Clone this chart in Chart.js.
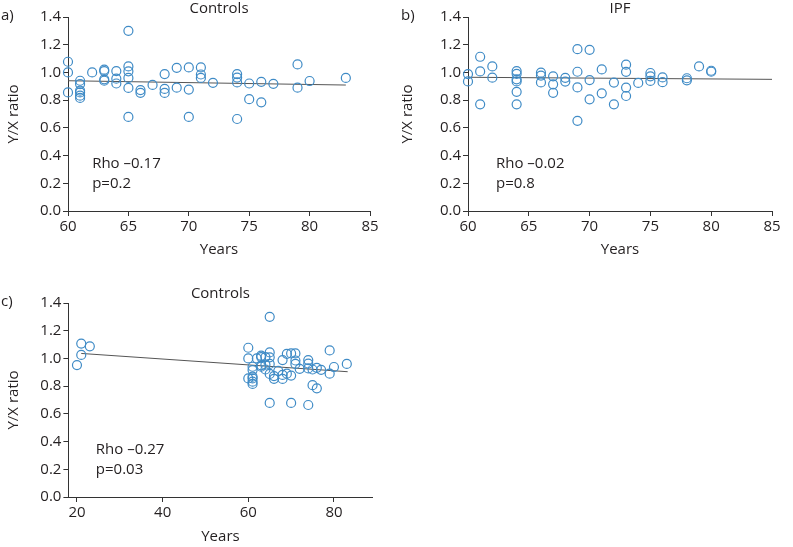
<!DOCTYPE html>
<html>
<head>
<meta charset="utf-8">
<script src="https://cdn.jsdelivr.net/npm/chart.js@4"></script>
<style>
  html, body { margin: 0; padding: 0; background: #fff; }
  body { width: 793px; height: 547px; position: relative; overflow: hidden; }
  .panel { position: absolute; }
</style>
</head>
<body>
<div class="panel" style="left:0;top:0"><canvas id="chartA" width="390" height="265"></canvas></div>
<div class="panel" style="left:390px;top:0"><canvas id="chartB" width="403" height="265"></canvas></div>
<div class="panel" style="left:0;top:265px"><canvas id="chartC" width="390" height="282"></canvas></div>
<script>
// a) Controls aged 60+
const ageA = [60, 60, 60, 61, 61, 61, 61, 61, 61, 62, 63, 63, 63, 63, 64, 64, 64,
  65, 65, 65, 65, 65, 65, 66, 66, 67, 68, 68, 68, 69, 69, 70, 70, 70, 71, 71, 71,
  72, 74, 74, 74, 74, 75, 75, 76, 76, 77, 79, 79, 80, 83];
const ratioA = [1.077, 1.0, 0.856, 0.94, 0.916, 0.868, 0.856, 0.832, 0.816, 1.0, 1.02, 1.01, 0.95, 0.94, 1.01, 0.955, 0.92,
  1.30, 1.043, 1.008, 0.96, 0.888, 0.679, 0.873, 0.853, 0.91, 0.988, 0.881, 0.852, 1.033, 0.89, 1.036, 0.876, 0.679, 1.036, 0.985, 0.96,
  0.925, 0.988, 0.963, 0.928, 0.664, 0.92, 0.807, 0.932, 0.784, 0.918, 1.058, 0.89, 0.938, 0.96];
const fitAgeA = [60, 83];
const fitRatioA = [0.94, 0.909];

// b) IPF
const ageB = [60, 60, 61, 61, 61, 62, 62, 64, 64, 64, 64, 64, 64, 66, 66, 66, 67, 67, 67, 68, 68,
  69, 69, 69, 69, 70, 70, 70, 71, 71, 72, 72, 73, 73, 73, 73, 74, 75, 75, 75, 76, 76, 78, 78, 79, 80, 80];
const ratioB = [0.988, 0.935, 1.113, 1.007, 0.77, 1.043, 0.962, 1.01, 0.99, 0.95, 0.935, 0.86, 0.77, 0.998, 0.977, 0.928, 0.972, 0.914, 0.853, 0.961, 0.934,
  1.168, 1.005, 0.892, 0.651, 1.163, 0.945, 0.806, 1.022, 0.849, 0.927, 0.77, 1.056, 1.004, 0.891, 0.83, 0.924, 0.996, 0.972, 0.939, 0.964, 0.93, 0.958, 0.943, 1.043, 1.012, 1.005];
const fitAgeB = [60, 85];
const fitRatioB = [0.965, 0.95];

// c) all controls = young controls + the 60+ group
const ageYoung = [20, 21, 21, 23];
const ratioYoung = [0.952, 1.107, 1.025, 1.087];
const fitAgeC = [21, 83.2];
const fitRatioC = [1.036, 0.904];

const yTicks = [0, 0.2, 0.4, 0.6, 0.8, 1.0, 1.2, 1.4];
const xTicksAB = [60, 65, 70, 75, 80, 85];
const xTicksC = [20, 40, 60, 80];

const statsA = ['Rho \u20130.17', 'p=0.2'];
const statsB = ['Rho \u20130.02', 'p=0.8'];
const statsC = ['Rho \u20130.27', 'p=0.03'];

const FONT = "'Open Sans', sans-serif";
const INK = '#231f20';
const AXIS = '#333';
const BLUE = '#3f8bc6';

const pairs = (xs, ys) => xs.map((x, i) => ({ x, y: ys[i] }));

const panelText = {
  id: 'panelText',
  afterDraw(chart, args, o) {
    const { ctx, chartArea, scales: { x, y } } = chart;
    ctx.save();
    ctx.fillStyle = INK;
    ctx.font = `15px ${FONT}`;
    ctx.textBaseline = 'middle';
    ctx.textAlign = 'center';
    ctx.fillText(o.title, (chartArea.left + chartArea.right) / 2, o.titleY);
    ctx.textAlign = 'left';
    ctx.fillText(o.letter, o.letterX, o.letterY);
    o.stats.forEach((s, i) => ctx.fillText(s, x.getPixelForValue(o.statsX), y.getPixelForValue(o.statsY[i])));
    ctx.restore();
  }
};

function makePanel(id, p) {
  return new Chart(document.getElementById(id), {
    type: 'scatter',
    data: {
      datasets: [
        { data: p.points, borderColor: BLUE, backgroundColor: 'rgba(0,0,0,0)', pointRadius: 4.5,
          pointHoverRadius: 4.5, pointBorderWidth: 1.2, clip: false, order: 1 },
        { data: p.fit, showLine: true, borderColor: '#555', borderWidth: 1, pointRadius: 0, order: 2 }
      ]
    },
    options: {
      responsive: false,
      animation: false,
      devicePixelRatio: 1,
      layout: { padding: p.pad },
      plugins: {
        legend: { display: false },
        tooltip: { enabled: false },
        panelText: p.text
      },
      scales: {
        x: {
          type: 'linear', min: p.xMin, max: p.xMax,
          afterBuildTicks: a => { a.ticks = p.xTicks.map(v => ({ value: v })); },
          afterFit: a => { a.height = p.xAxisH; },
          grid: { drawOnChartArea: false, tickLength: 5, color: AXIS },
          border: { color: AXIS, width: 1 },
          ticks: { color: INK, font: { family: FONT, size: 15 }, padding: 2, maxRotation: 0, autoSkip: false },
          title: { display: true, text: 'Years', color: INK, font: { family: FONT, size: 15 }, padding: { top: 0, bottom: 0 } }
        },
        y: {
          min: 0, max: 1.4,
          afterBuildTicks: a => { a.ticks = yTicks.map(v => ({ value: v })); },
          afterFit: a => { a.width = p.yAxisW; },
          grid: { drawOnChartArea: false, tickLength: 5, color: AXIS },
          border: { color: AXIS, width: 1 },
          ticks: { color: INK, font: { family: FONT, size: 15 }, padding: 2, callback: v => v.toFixed(1) },
          title: { display: true, text: 'Y/X ratio', color: INK, font: { family: FONT, size: 15 }, padding: { top: 5, bottom: 0 } }
        }
      }
    },
    plugins: [panelText]
  });
}

makePanel('chartA', {
  points: pairs(ageA, ratioA), fit: pairs(fitAgeA, fitRatioA),
  xMin: 60, xMax: 85, xTicks: xTicksAB,
  pad: { left: 0, top: 17, right: 20, bottom: 6 }, yAxisW: 68, xAxisH: 48,
  text: { title: 'Controls', titleY: 9, letter: 'a)', letterX: 1, letterY: 16, stats: statsA, statsX: 62, statsY: [0.34, 0.2] }
});

makePanel('chartB', {
  points: pairs(ageB, ratioB), fit: pairs(fitAgeB, fitRatioB),
  xMin: 60, xMax: 85, xTicks: xTicksAB,
  pad: { left: 4, top: 17, right: 21, bottom: 6 }, yAxisW: 74, xAxisH: 48,
  text: { title: 'IPF', titleY: 9, letter: 'b)', letterX: 11, letterY: 16, stats: statsB, statsX: 62.3, statsY: [0.34, 0.2] }
});

makePanel('chartC', {
  points: pairs(ageYoung.concat(ageA), ratioYoung.concat(ratioA)), fit: pairs(fitAgeC, fitRatioC),
  xMin: 18, xMax: 89, xTicks: xTicksC,
  pad: { left: 0, top: 38, right: 17.5, bottom: 1 }, yAxisW: 68.4, xAxisH: 49,
  text: { title: 'Controls', titleY: 29, letter: 'c)', letterX: 1, letterY: 37, stats: statsC, statsX: 24.4, statsY: [0.339, 0.194] }
});
</script>
</body>
</html>
